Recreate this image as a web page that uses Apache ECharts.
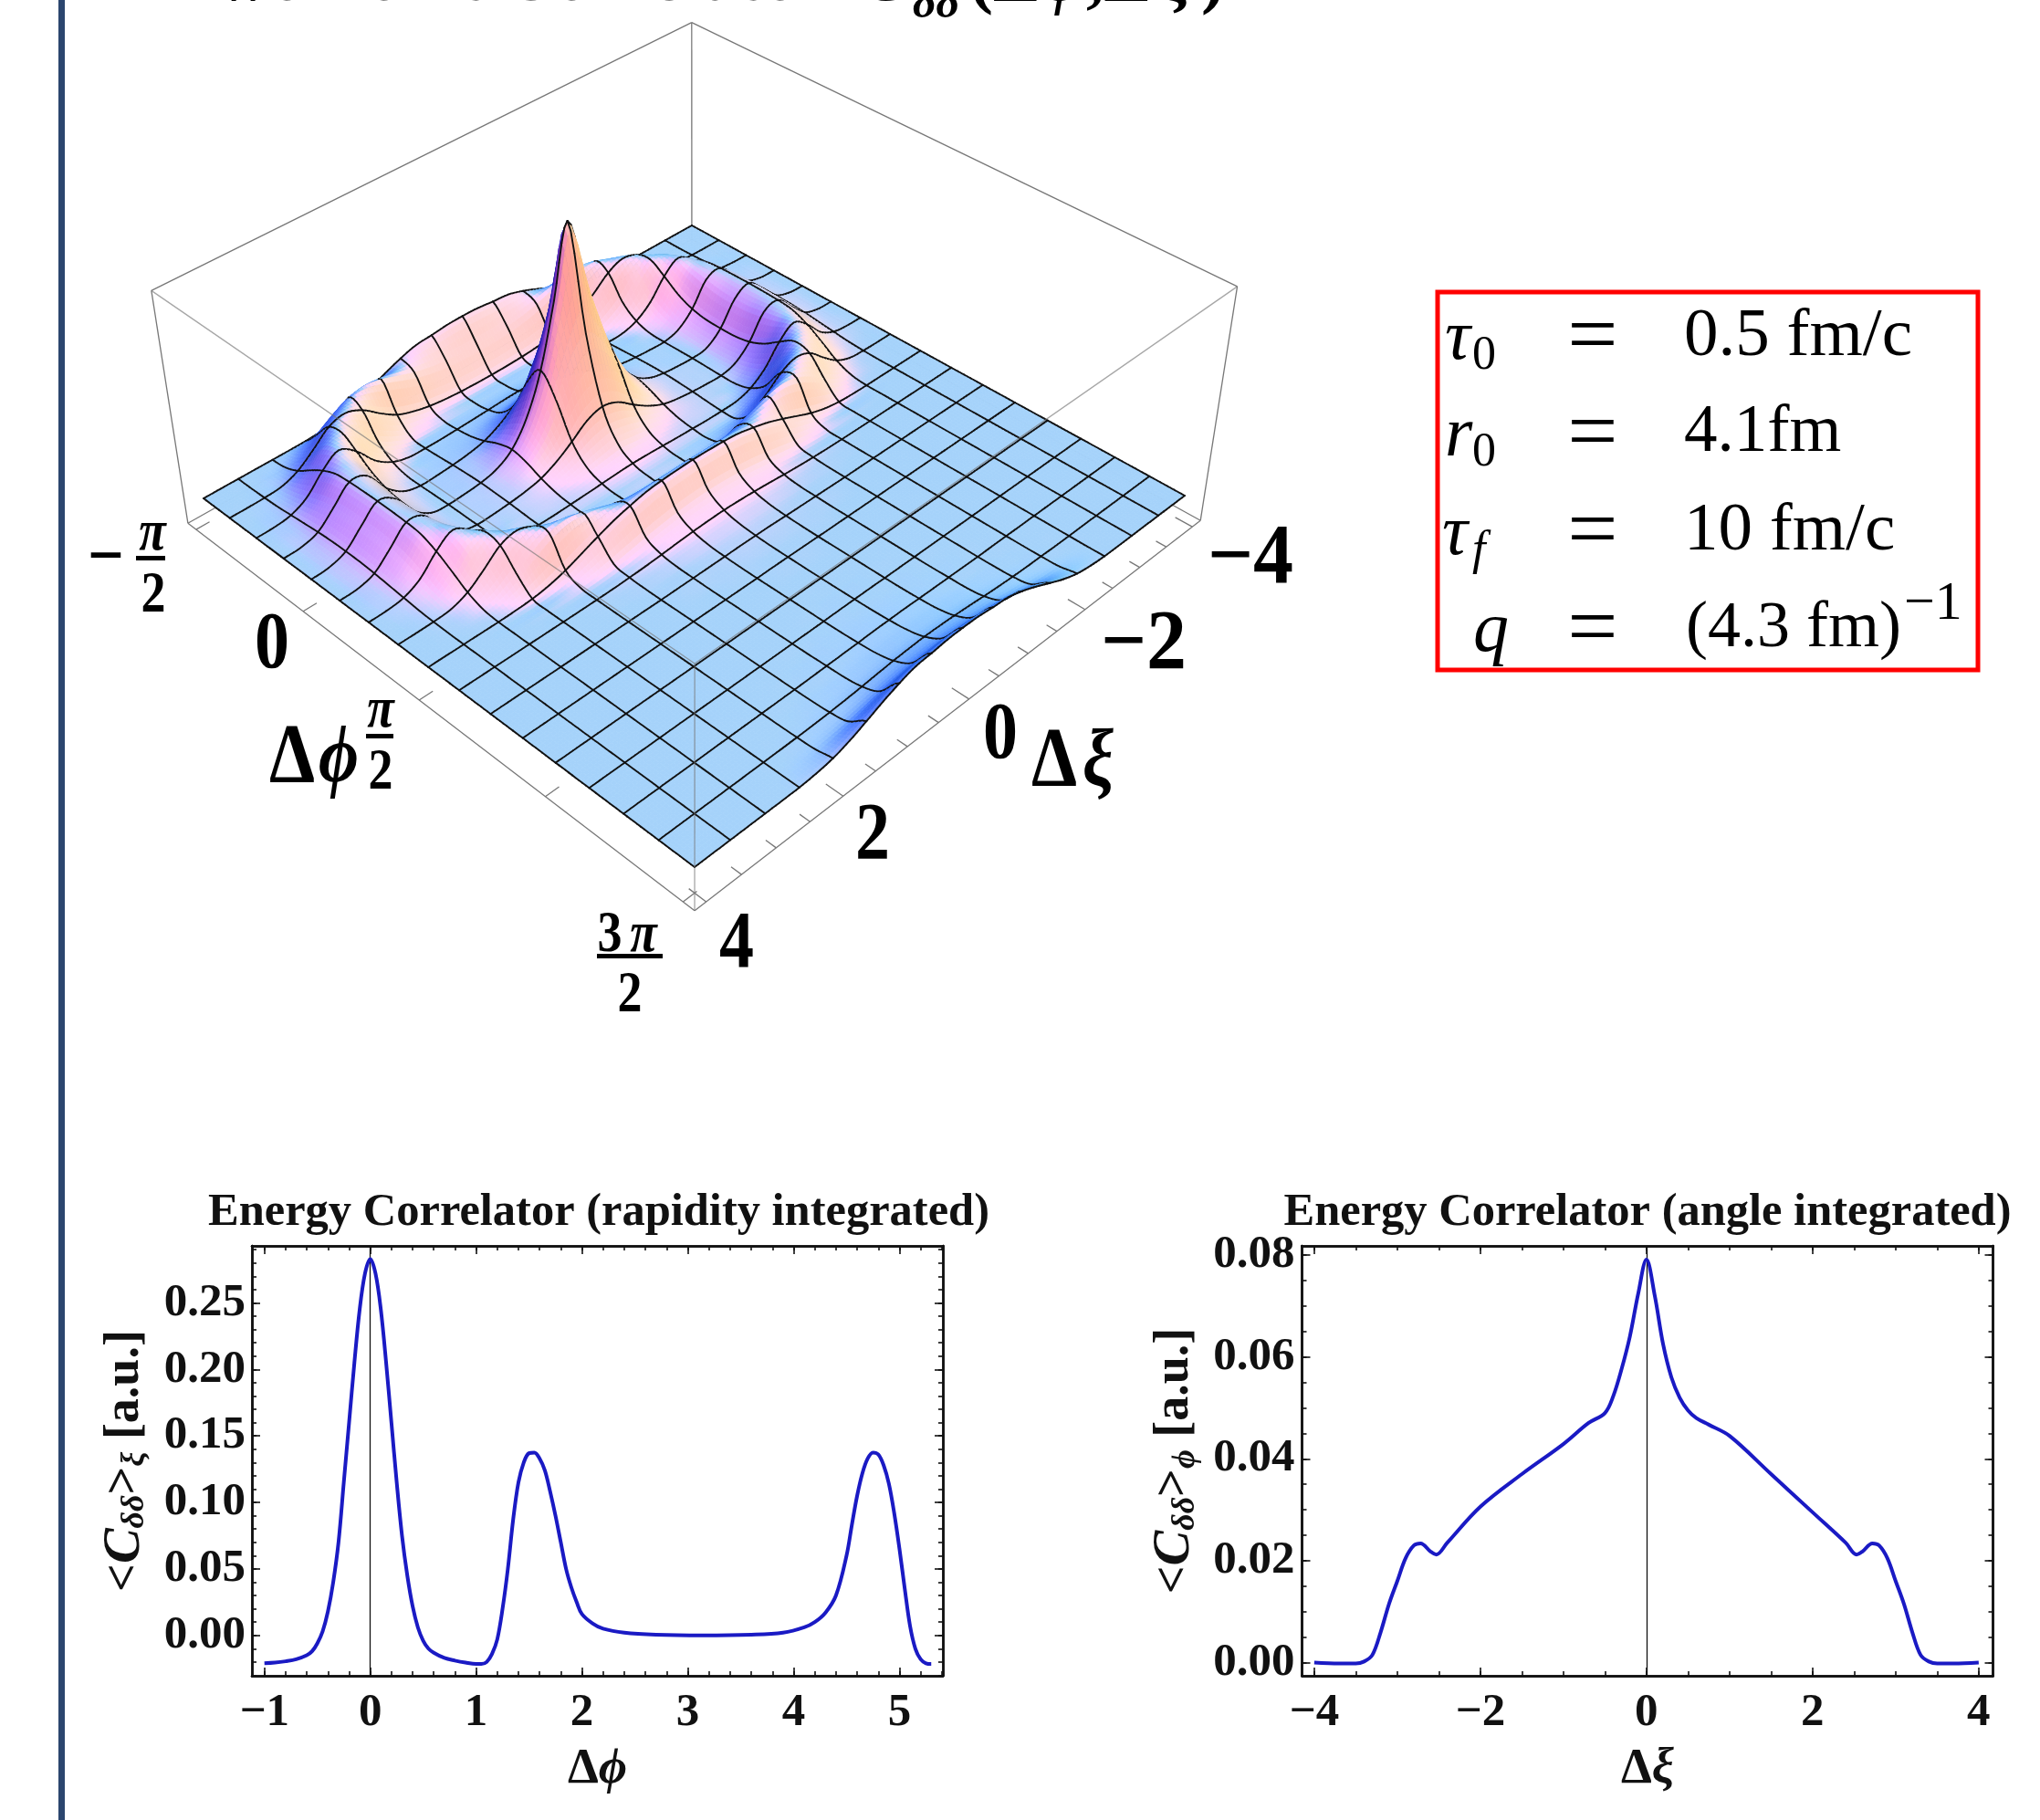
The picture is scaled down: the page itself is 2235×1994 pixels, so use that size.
<!DOCTYPE html>
<html><head><meta charset="utf-8">
<style>html,body{margin:0;padding:0;background:#fff}#c{width:2235px;height:1994px}</style>
<script src="https://cdn.jsdelivr.net/npm/echarts@6/dist/echarts.min.js"></script>
</head><body><div id="c"></div>
<script>
// ---------- data ----------
const phiCurveX=[-1.0,-0.9,-0.8,-0.7,-0.6,-0.55,-0.5,-0.45,-0.4,-0.35,-0.3,-0.25,-0.2,-0.15,-0.1,-0.05,0,0.05,0.1,0.15,0.2,0.25,0.3,0.35,0.4,0.45,0.5,0.55,0.6,0.7,0.8,0.9,1.0,1.05,1.1,1.15,1.2,1.25,1.3,1.35,1.4,1.45,1.5,1.55,1.6,1.65,1.7,1.75,1.8,1.85,1.9,1.95,2.0,2.1,2.2,2.4,2.7,3.14,3.6,3.9,4.1,4.2,4.3,4.4,4.5,4.55,4.6,4.65,4.7,4.75,4.8,4.85,4.9,4.95,5.0,5.05,5.1,5.15,5.2,5.25,5.3];
const phiCurveY=[-0.021,-0.0205,-0.0195,-0.018,-0.015,-0.012,-0.006,0.003,0.018,0.04,0.07,0.115,0.16,0.205,0.245,0.272,0.283,0.272,0.245,0.205,0.16,0.115,0.075,0.045,0.022,0.006,-0.004,-0.01,-0.013,-0.017,-0.019,-0.0205,-0.0215,-0.0215,-0.02,-0.014,-0.003,0.02,0.05,0.087,0.115,0.13,0.137,0.1375,0.133,0.124,0.108,0.09,0.07,0.05,0.036,0.025,0.016,0.009,0.005,0.002,0.0005,0,0.0005,0.002,0.006,0.01,0.017,0.03,0.06,0.083,0.105,0.122,0.133,0.1375,0.136,0.128,0.114,0.092,0.065,0.035,0.007,-0.01,-0.018,-0.021,-0.0215];
const xiCurveX=[-4,-3.7,-3.5,-3.4,-3.3,-3.2,-3.1,-3,-2.9,-2.8,-2.72,-2.6,-2.53,-2.4,-2,-1.5,-1,-0.7,-0.5,-0.4,-0.3,-0.2,-0.1,0,0.1,0.2,0.3,0.4,0.5,0.6,0.75,1,1.5,2,2.4,2.53,2.6,2.72,2.8,2.9,3,3.1,3.2,3.3,3.4,3.5,3.7,4];
const xiCurveY=[0,-0.0002,-0.0002,0.0002,0.0015,0.006,0.0115,0.016,0.0205,0.023,0.0234,0.0218,0.0212,0.0235,0.0306,0.037,0.0429,0.047,0.049,0.0523,0.0576,0.064,0.0724,0.0791,0.072,0.0625,0.056,0.052,0.0495,0.048,0.0467,0.0445,0.037,0.0295,0.0235,0.0212,0.0218,0.0234,0.023,0.0205,0.016,0.0115,0.006,0.0015,0.0002,-0.0002,-0.0002,0];
const phiMajorTicks=[-1,0,1,2,3,4,5];
const phiSideTicks=[0,0.05,0.1,0.15,0.2,0.25];
const xiMajorTicks=[-4,-2,0,2,4];
const xiSideTicks=[0,0.02,0.04,0.06,0.08];
const surfaceTicksPhi=[-Math.PI/2,0,Math.PI/2,Math.PI,3*Math.PI/2];
const surfaceTicksXi=[-4,-3.5,-3,-2.5,-2,-1.5,-1,-0.5,0,0.5,1,1.5,2,2.5,3,3.5,4];
// surface height x1000; rows: phi from -pi/2 to 3pi/2, columns: xi from -4 to 4
const surfaceZ=[
[0,0,0,0,0,0,1,7,20,46,81,118,150,174,181,190,192,190,181,174,150,118,81,46,20,7,1,0,0,0,0,0,0],
[0,0,0,2,9,35,82,138,179,193,178,150,122,103,91,86,85,86,91,103,122,150,178,193,179,138,82,35,9,2,0,0,0],
[0,0,2,9,41,102,170,192,160,96,41,11,-8,-19,-25,-28,-29,-28,-25,-19,-8,11,41,96,160,192,170,102,41,9,2,0,0],
[0,0,6,29,93,171,187,127,46,-4,-33,-39,-40,-40,-40,-40,-40,-40,-40,-40,-40,-39,-33,-4,46,127,187,171,93,29,6,0,0],
[0,2,14,57,141,195,140,44,-13,-37,-40,-40,-37,-34,-30,-26,-24,-26,-30,-34,-37,-40,-40,-37,-13,44,140,195,141,57,14,2,0],
[0,4,22,87,174,179,85,2,-36,-38,-36,-32,-26,-14,3,18,30,18,3,-14,-26,-32,-36,-38,-36,2,85,179,174,87,22,4,0],
[0,4,30,105,183,164,51,-17,-38,-36,-30,-20,-2,36,90,150,175,150,90,36,-2,-20,-30,-36,-38,-17,51,164,183,105,30,4,0],
[0,5,35,113,186,150,36,-25,-37,-34,-26,-10,32,115,255,420,500,420,255,115,32,-10,-26,-34,-37,-25,36,150,186,113,35,5,0],
[0,6,36,115,187,147,34,-27,-36,-32,-24,-3,50,165,360,660,1000,660,360,165,50,-3,-24,-32,-36,-27,34,147,187,115,36,6,0],
[0,5,35,113,186,150,36,-25,-37,-34,-26,-10,32,115,255,420,500,420,255,115,32,-10,-26,-34,-37,-25,36,150,186,113,35,5,0],
[0,4,30,105,183,164,51,-17,-38,-36,-30,-20,-2,36,90,150,175,150,90,36,-2,-20,-30,-36,-38,-17,51,164,183,105,30,4,0],
[0,4,22,87,174,179,85,2,-36,-38,-36,-32,-26,-14,3,18,30,18,3,-14,-26,-32,-36,-38,-36,2,85,179,174,87,22,4,0],
[0,2,14,57,141,195,140,44,-13,-37,-40,-40,-37,-34,-30,-26,-24,-26,-30,-34,-37,-40,-40,-37,-13,44,140,195,141,57,14,2,0],
[0,0,6,29,93,171,187,127,46,-4,-33,-39,-40,-40,-40,-40,-40,-40,-40,-40,-40,-39,-33,-4,46,127,187,171,93,29,6,0,0],
[0,0,2,9,41,102,170,192,160,96,41,11,-8,-19,-25,-28,-29,-28,-25,-19,-8,11,41,96,160,192,170,102,41,9,2,0,0],
[0,0,0,2,9,35,82,138,179,193,178,150,122,103,91,86,85,86,91,103,122,150,178,193,179,138,82,35,9,2,0,0,0],
[0,0,0,0,0,2,7,20,43,75,108,138,160,178,186,190,192,190,186,178,160,138,108,75,43,20,7,2,0,0,0,0,0],
[0,0,0,0,0,0,0,1,4,10,20,34,50,64,74,81,83,81,74,64,50,34,20,10,4,1,0,0,0,0,0,0,0],
[0,0,0,0,0,0,0,0,1,2,5,9,15,22,28,32,34,32,28,22,15,9,5,2,1,0,0,0,0,0,0,0,0],
[0,0,0,0,0,0,0,0,0,0,1,2,4,7,10,13,14,13,10,7,4,2,1,0,0,0,0,0,0,0,0,0,0],
[0,0,0,0,0,0,0,0,0,0,0,1,2,3,4,6,6,6,4,3,2,1,0,0,0,0,0,0,0,0,0,0,0],
[0,0,0,0,0,0,0,0,0,0,0,0,0,1,1,2,2,2,1,1,0,0,0,0,0,0,0,0,0,0,0,0,0],
[0,0,0,0,0,0,0,0,0,0,0,0,0,0,0,1,1,1,0,0,0,0,0,0,0,0,0,0,0,0,0,0,0],
[0,0,0,0,0,0,0,0,0,0,0,0,0,0,0,0,0,0,0,0,0,0,0,0,0,0,0,0,0,0,0,0,0],
[0,0,0,0,0,0,0,0,0,0,0,0,0,0,0,0,0,0,0,0,0,0,0,0,0,0,0,0,0,0,0,0,0],
[0,0,0,0,0,0,0,0,0,0,0,0,0,0,0,0,0,0,0,0,0,0,0,0,0,0,0,0,0,0,0,0,0],
[0,0,0,0,0,0,0,0,0,0,0,0,0,0,0,1,1,1,0,0,0,0,0,0,0,0,0,0,0,0,0,0,0],
[0,0,0,0,0,0,0,0,0,0,0,0,0,1,1,2,2,2,1,1,0,0,0,0,0,0,0,0,0,0,0,0,0],
[0,0,0,0,0,0,0,0,0,0,0,1,2,3,4,6,6,6,4,3,2,1,0,0,0,0,0,0,0,0,0,0,0],
[0,0,0,0,0,0,0,0,0,0,1,2,4,7,10,13,14,13,10,7,4,2,1,0,0,0,0,0,0,0,0,0,0],
[0,0,0,0,0,0,0,0,1,2,5,9,15,22,28,32,34,32,28,22,15,9,5,2,1,0,0,0,0,0,0,0,0],
[0,0,0,0,0,0,0,1,4,10,20,34,50,64,74,81,83,81,74,64,50,34,20,10,4,1,0,0,0,0,0,0,0],
[0,0,0,0,0,0,1,7,20,46,81,118,150,174,181,190,192,190,181,174,150,118,81,46,20,7,1,0,0,0,0,0,0]
];
// ---------- view of the 3D box ----------
const CAM={a:419.6,b:649.4,c:223,d:256.2,e:-261.7,f:546,g:-0.15555,h:0.15098,vx:760,vy:4100,k:-0.0592};
const Z_TOP=1.017,Z_FLOOR=-0.13,PAD=0.02,HZ=0.45,SUB=5;
function project(u,v,z){const q=CAM.k*z,w=CAM.g*u+CAM.h*v+1+q;
  return [(CAM.a*u+CAM.b*v+CAM.c+q*CAM.vx)/w,(CAM.d*u+CAM.e*v+CAM.f+q*CAM.vy)/w];}
const phiToU=p=>(p+Math.PI/2)/(2*Math.PI), xiToV=x=>(4-x)/8;
const CELLS=surfaceZ.length-1,NS=CELLS*SUB;
function cr(a,b,c,d,t){return 0.5*(2*b+(c-a)*t+(2*a-5*b+4*c-d)*t*t+(3*b-a-3*c+d)*t*t*t);}
const zr=(i,j)=>surfaceZ[Math.max(0,Math.min(CELLS,i))][Math.max(0,Math.min(CELLS,j))];
function zAt(a,b){const s=a/SUB,t=b/SUB,i=Math.min(CELLS-1,Math.floor(s)),j=Math.min(CELLS-1,Math.floor(t)),fs=s-i,ft=t-j,col=[];
  for(let k=-1;k<=2;k++)col.push(cr(zr(i+k,j-1),zr(i+k,j),zr(i+k,j+1),zr(i+k,j+2),ft));
  return cr(col[0],col[1],col[2],col[3],fs)/1000;}
const ZG=[];for(let a=0;a<=NS;a++){const r=[];for(let b=0;b<=NS;b++)r.push(zAt(a,b));ZG.push(r);}
const PX=[];for(let a=0;a<=NS;a++){const r=[];for(let b=0;b<=NS;b++)r.push(project(a/NS,1-b/NS,ZG[a][b]));PX.push(r);}
function clamp(v){return Math.max(0,Math.min(255,Math.round(v)));}
function shade(a,b){
  const dzu=(ZG[a+1][b]+ZG[a+1][b+1]-ZG[a][b]-ZG[a][b+1])/2*NS;
  const dzv=-(ZG[a][b+1]+ZG[a+1][b+1]-ZG[a][b]-ZG[a+1][b])/2*NS;
  let nu=-dzu*HZ,nv=-dzv*HZ,nz=1;const l=Math.hypot(nu,nv,nz);nu/=l;nv/=l;nz/=l;
  const sr=(nu+nv)/Math.SQRT2,sf=(nu-nv)/Math.SQRT2,f=Math.max(0,sf),r=Math.max(0,sr),b2=Math.max(0,-sf),l2=Math.max(0,-sr);
  const R=60+105*nz+190*f+190*r-60*b2-55*l2;
  const G=60+150*nz+80*f*f+120*r*r+10*b2-60*l2;
  const B=60+190*nz+40*f+30*f*f+45*r*r+40*b2+80*l2;
  return 'rgb('+clamp(R)+','+clamp(G)+','+clamp(B)+')';
}
const quadData=[];for(let a=0;a<NS;a++)for(let b=0;b<NS;b++)quadData.push([a*(NS+1)+b]);
const MESH=SUB*2;
function renderQuad(params,api){
  const id=api.value(0),a=Math.floor(id/(NS+1)),b=id-a*(NS+1);
  const c=(i,j)=>api.coord(PX[i][j]);
  const p00=c(a,b),p01=c(a,b+1),p11=c(a+1,b+1),p10=c(a+1,b);
  const col=shade(a,b);
  const kids=[{type:'polygon',shape:{points:[p00,p01,p11,p10]},style:{fill:col,stroke:col,lineWidth:0.7}}];
  const ln=(p,q)=>kids.push({type:'line',shape:{x1:p[0],y1:p[1],x2:q[0],y2:q[1]},style:{stroke:'#111',lineWidth:1.9,lineCap:'round'}});
  if(a%MESH===0)ln(p00,p01);
  if(b%MESH===0)ln(p00,p10);
  if(a===NS-1)ln(p10,p11);
  if(b===NS-1)ln(p01,p11);
  return {type:'group',children:kids};
}
// box edges as [u1,v1,z1,u2,v2,z2]
const lo=-PAD,hi=1+PAD;
const boxBack=[[lo,hi,Z_TOP,lo,lo,Z_TOP],[lo,hi,Z_TOP,hi,hi,Z_TOP],[lo,hi,Z_TOP,lo,hi,Z_FLOOR],[lo,lo,Z_TOP,lo,lo,Z_FLOOR],[hi,hi,Z_TOP,hi,hi,Z_FLOOR],
  [lo,lo,Z_FLOOR,hi,lo,Z_FLOOR],[hi,lo,Z_FLOOR,hi,hi,Z_FLOOR],[lo,lo,Z_FLOOR,lo,hi,Z_FLOOR],[hi,hi,Z_FLOOR,lo,hi,Z_FLOOR]];
surfaceTicksPhi.forEach(p=>{const u=phiToU(p);boxBack.push([u,lo,Z_FLOOR,u,lo+0.024,Z_FLOOR]);});
surfaceTicksXi.forEach((x,i)=>{const v=xiToV(x);boxBack.push([hi,v,Z_FLOOR,hi-(i%4===0?0.03:0.018),v,Z_FLOOR]);});
const boxFront=[[lo,lo,Z_TOP,hi,lo,Z_TOP],[hi,hi,Z_TOP,hi,lo,Z_TOP],[hi,lo,Z_TOP,hi,lo,Z_FLOOR]];
function edgeRender(color,width,op){return function(params,api){
  const a=project(api.value(0),api.value(1),api.value(2)),b=project(api.value(3),api.value(4),api.value(5));
  const p=api.coord(a),q=api.coord(b);
  return {type:'line',shape:{x1:p[0],y1:p[1],x2:q[0],y2:q[1]},style:{stroke:color,lineWidth:width,opacity:op}};};}
// ---------- axes ----------
const SERIF='"Liberation Serif"';
function range(a,b,s){const o=[];const n=Math.round((b-a)/s);for(let i=0;i<=n;i++)o.push(+(a+i*s).toFixed(4));return o;}
const minus=v=>v<0?'\u2212'+Math.abs(v):''+v;
function frame(grid,min,max,majors,minors,pos,mirror,fmt,extra){
  const base={type:'value',gridIndex:grid,min,max,scale:true,splitLine:{show:false},axisLine:{show:true,onZero:false,lineStyle:{color:'#111',width:2.5}}};
  const tick=(vals,len)=>({show:true,inside:true,length:len,lineStyle:{color:'#111',width:1.6},customValues:vals});
  return [
   Object.assign({},base,{position:pos,axisTick:tick(majors,9),axisLabel:{show:true,customValues:majors,formatter:fmt,fontFamily:SERIF,fontWeight:'bold',fontSize:51,color:'#111',margin:extra.margin,hideOverlap:false,showMinLabel:true,showMaxLabel:true}},extra.axis),
   Object.assign({},base,{position:pos,axisTick:tick(minors,5),axisLabel:{show:false}}),
   Object.assign({},base,{position:mirror,axisTick:tick(majors,9),axisLabel:{show:false}}),
   Object.assign({},base,{position:mirror,axisTick:tick(minors,5),axisLabel:{show:false}})
  ];
}
const gL={left:276,top:1365,width:757,height:471},gR={left:1426.5,top:1365,width:757,height:471};
const yNameRich=()=>({fontFamily:SERIF,fontWeight:'bold',fontSize:54,color:'#111',rich:{
  i:{fontFamily:SERIF,fontStyle:'italic',fontWeight:'bold',fontSize:58,color:'#111'},
  s:{fontFamily:SERIF,fontStyle:'italic',fontWeight:'bold',fontSize:36,color:'#111',verticalAlign:'bottom',lineHeight:52,padding:[20,0,0,0]},
  b:{fontFamily:SERIF,fontWeight:'bold',fontSize:54,color:'#111'}}});
const xNameRich=()=>({fontFamily:SERIF,fontWeight:'bold',fontSize:54,color:'#111',rich:{
  b:{fontFamily:SERIF,fontWeight:'bold',fontSize:54,color:'#111'},
  i:{fontFamily:SERIF,fontWeight:'bold',fontStyle:'italic',fontSize:54,color:'#111'}}});
const xAxes=[{type:'value',gridIndex:0,min:0,max:2235,show:false}]
 .concat(frame(1,-1.118,5.41,phiMajorTicks,range(-1,5.4,0.2),'bottom','top',minus,{margin:15,axis:{name:'{b|Δ}{i|ϕ}',nameLocation:'middle',nameGap:76,nameTextStyle:xNameRich()}}))
 .concat(frame(2,-4.147,4.172,xiMajorTicks,range(-4,4,0.5),'bottom','top',minus,{margin:15,axis:{name:'{b|Δ}{i|ξ}',nameLocation:'middle',nameGap:76,nameTextStyle:xNameRich()}}));
const yAxes=[{type:'value',gridIndex:0,min:0,max:1994,inverse:true,show:false}]
 .concat(frame(1,-0.0304,0.2929,phiSideTicks,range(-0.03,0.29,0.01),'left','right',v=>v.toFixed(2),{margin:7,axis:{name:'{b|<}{i|C}{s|δδ}{b|>}{s|ξ}{b| [a.u.]}',nameLocation:'middle',nameGap:110,nameRotate:90,nameTextStyle:yNameRich()}}))
 .concat(frame(2,-0.0026,0.0818,xiSideTicks,range(0,0.08,0.005),'left','right',v=>v.toFixed(2),{margin:8,axis:{name:'{b|<}{i|C}{s|δδ}{b|>}{s|ϕ}{b| [a.u.]}',nameLocation:'middle',nameGap:110,nameRotate:90,nameTextStyle:yNameRich()}}));
// ---------- text ----------
function T(text,x,y,size,o){o=o||{};return {type:'text',x,y,scaleY:o.sy||1,z:50,style:{text,fontFamily:SERIF,fontSize:size,fontWeight:o.normal?'normal':'bold',fontStyle:o.italic?'italic':'normal',fill:o.fill||'#000',align:o.align||'center',verticalAlign:o.va||'middle'}};}
function Bar(x,y,w,h){return {type:'rect',z:50,shape:{x,y,width:w,height:h},style:{fill:'#000'}};}
const SY=1.16;
const graphics=[
 {type:'rect',z:60,shape:{x:64,y:0,width:7,height:1994},style:{fill:'#2b466e'}},
 // cropped heading
 T('Two Point Correlator',192,19,78,{align:'left',va:'bottom'}),
 T('C',945,19,78,{align:'left',va:'bottom',italic:true}),
 T('δδ',1000,31,50,{align:'left',va:'bottom',italic:true}),
 T('(Δ',1062,19,78,{align:'left',va:'bottom'}),
 T('ϕ',1142,19,78,{align:'left',va:'bottom',italic:true}),
 T(',Δ',1190,19,78,{align:'left',va:'bottom'}),
 T('ξ',1268,19,78,{align:'left',va:'bottom',italic:true}),
 T(')',1316,19,78,{align:'left',va:'bottom'}),
 // surface labels
 T('\u2212',116,614,70,{sy:SY}),T('π',167,586,54,{italic:true,sy:SY}),Bar(149,609,32,5),T('2',168,654,54,{sy:SY}),
 T('0',298,708,76,{sy:SY}),
 T('Δ',320,833,80,{sy:SY}),T('ϕ',371,833,76,{italic:true,sy:SY}),
 T('π',417,780,54,{italic:true,sy:SY}),Bar(401,804,30,5),T('2',417,848,54,{sy:SY}),
 T('3',668,1026,54,{sy:SY}),T('π',705,1026,54,{italic:true,sy:SY}),Bar(654,1045,72,5),T('2',690,1092,54,{sy:SY}),
 T('4',807,1036,76,{sy:SY}),T('2',956,917,76,{sy:SY}),T('0',1096,807,76,{sy:SY}),
 T('Δ',1155,837,80,{sy:SY}),T('ξ',1203,837,76,{italic:true,sy:SY}),
 T('\u22122',1253,708,88,{sy:1.05}),T('\u22124',1370,614,88,{sy:1.05}),
 // parameter box
 {type:'rect',z:50,shape:{x:1575,y:320,width:592,height:414},style:{fill:'none',stroke:'#f00',lineWidth:5}},
 T('τ',1583,372,78,{align:'left',normal:true,italic:true}),T('0',1613,390,52,{align:'left',normal:true}),
 T('r',1583,478,78,{align:'left',normal:true,italic:true}),T('0',1613,496,52,{align:'left',normal:true}),
 T('τ',1580,586,78,{align:'left',normal:true,italic:true}),T('f',1613,604,52,{align:'left',normal:true,italic:true}),
 T('q',1614,692,78,{align:'left',normal:true,italic:true}),
 T('=',1745,372,98,{normal:true}),T('=',1745,478,98,{normal:true}),T('=',1745,585,98,{normal:true}),T('=',1745,692,98,{normal:true}),
 T('0.5 fm/c',1845,369,75,{align:'left',normal:true}),
 T('4.1fm',1845,475,73,{align:'left',normal:true}),
 T('10 fm/c',1845,582,75,{align:'left',normal:true}),
 T('(4.3 fm)',1847,689,72,{align:'left',normal:true}),
 T('\u22121',2086,662,60,{align:'left',normal:true})
];
const option={
 backgroundColor:'#fff',animation:false,
 title:[
  {text:'Energy Correlator (rapidity integrated)',left:651,top:1298,textAlign:'center',textStyle:{fontFamily:SERIF,fontWeight:'bold',fontSize:50.5,color:'#111'}},
  {text:'Energy Correlator (angle integrated)',left:1800,top:1298,textAlign:'center',textStyle:{fontFamily:SERIF,fontWeight:'bold',fontSize:50.5,color:'#111'}}
 ],
 grid:[{left:0,top:0,width:2235,height:1994},gL,gR],
 xAxis:xAxes,yAxis:yAxes,
 series:[
  {type:'custom',name:'box back',xAxisIndex:0,yAxisIndex:0,z:1,silent:true,clip:false,encode:{x:0,y:1},data:boxBack,renderItem:edgeRender('#777',1.3,1),progressive:0},
  {type:'custom',name:'correlator surface',xAxisIndex:0,yAxisIndex:0,z:2,silent:true,clip:false,encode:{x:0},data:quadData,renderItem:renderQuad,progressive:0},
  {type:'custom',name:'box front',xAxisIndex:0,yAxisIndex:0,z:3,silent:true,clip:false,encode:{x:0,y:1},data:boxFront,renderItem:edgeRender('#777',1.3,0.65),progressive:0},
  {type:'line',name:'rapidity integrated',xAxisIndex:1,yAxisIndex:1,z:5,showSymbol:false,smooth:0.35,silent:true,lineStyle:{color:'#1a1ac4',width:4},data:phiCurveX.map((x,i)=>[x,phiCurveY[i]]),
    markLine:{silent:true,symbol:'none',label:{show:false},lineStyle:{color:'#111',width:1.3,type:'solid'},data:[{xAxis:0}],animation:false}},
  {type:'line',name:'angle integrated',xAxisIndex:5,yAxisIndex:5,z:5,showSymbol:false,smooth:0.35,silent:true,lineStyle:{color:'#1a1ac4',width:4},data:xiCurveX.map((x,i)=>[x,xiCurveY[i]]),
    markLine:{silent:true,symbol:'none',label:{show:false},lineStyle:{color:'#111',width:1.3,type:'solid'},data:[{xAxis:0}],animation:false}}
 ],
 graphic:{elements:graphics}
};
const chart=echarts.init(document.getElementById('c'),null,{renderer:'canvas',width:2235,height:1994});
chart.setOption(option);
</script></body></html>
